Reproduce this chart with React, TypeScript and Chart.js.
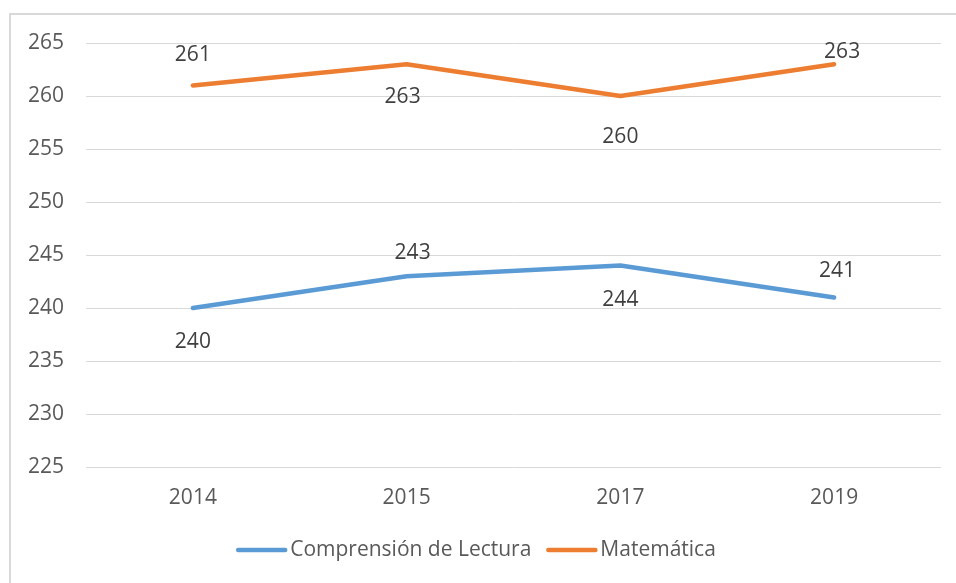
import React, { useEffect, useRef } from "react";
import { Chart, registerables } from "chart.js";

Chart.register(...registerables);

const categories = ["2014", "2015", "2017", "2019"];
const seriesNames = ["Comprensión de Lectura", "Matemática"];
const lecturaValues = [240, 243, 244, 241];
const matematicaValues = [261, 263, 260, 263];
const yMin = 225;
const yMax = 265;
const yStep = 5;

// label offsets in px (style only)
const lecturaLabelOffsets = [[0, 34], [6, -23], [0, 34], [3, -26]];
const matematicaLabelOffsets = [[0, -30], [-4, 33], [0, 41], [8, -12]];

const FONT = "'Open Sans', 'Noto Sans', sans-serif";
const FONT_SIZE = 21;
const TEXT = "#595959";
const BLUE = "#5B9BD5";
const ORANGE = "#ED7D31";

const labelPlugin = {
  id: "pointLabels",
  afterDatasetsDraw(chart: any) {
    const ctx = chart.ctx;
    ctx.save();
    ctx.font = `${FONT_SIZE}px ${FONT}`;
    ctx.fillStyle = "#404040";
    ctx.textAlign = "center";
    ctx.textBaseline = "middle";
    chart.data.datasets.forEach((ds: any, i: number) => {
      const meta = chart.getDatasetMeta(i);
      meta.data.forEach((pt: any, j: number) => {
        const off = ds.labelOffsets[j];
        ctx.fillText(String(ds.data[j]), pt.x + off[0], pt.y + off[1]);
      });
    });
    ctx.restore();
  },
};

const legendPlugin = {
  id: "customLegend",
  afterDraw(chart: any) {
    const ctx = chart.ctx;
    ctx.save();
    ctx.font = `${FONT_SIZE}px ${FONT}`;
    const lineLen = 51;
    const gap = 3;
    const itemGap = 15;
    const items = chart.data.datasets.map((ds: any) => ({
      label: ds.label,
      color: ds.borderColor,
      w: ctx.measureText(ds.label).width,
    }));
    let total = 0;
    items.forEach((it: any, i: number) => {
      total += lineLen + gap + it.w + (i < items.length - 1 ? itemGap : 0);
    });
    let x = 476 - total / 2;
    const y = 550;
    items.forEach((it: any) => {
      ctx.strokeStyle = it.color;
      ctx.lineWidth = 4.5;
      ctx.lineCap = "round";
      ctx.beginPath();
      ctx.moveTo(x + 2, y);
      ctx.lineTo(x + lineLen - 2, y);
      ctx.stroke();
      x += lineLen + gap;
      ctx.fillStyle = TEXT;
      ctx.textAlign = "left";
      ctx.textBaseline = "middle";
      ctx.fillText(it.label, x, y);
      x += it.w + itemGap;
    });
    ctx.restore();
  },
};

export default function App() {
  const ref = useRef<HTMLCanvasElement>(null);
  useEffect(() => {
    if (!ref.current) return;
    const chart = new Chart(ref.current, {
      type: "line",
      data: {
        labels: categories,
        datasets: [
          {
            label: seriesNames[0],
            data: lecturaValues,
            borderColor: BLUE,
            backgroundColor: BLUE,
            borderWidth: 4.5,
            pointRadius: 0,
            tension: 0,
            borderCapStyle: "round",
            borderJoinStyle: "round",
            labelOffsets: lecturaLabelOffsets,
          } as any,
          {
            label: seriesNames[1],
            data: matematicaValues,
            borderColor: ORANGE,
            backgroundColor: ORANGE,
            borderWidth: 4.5,
            pointRadius: 0,
            tension: 0,
            borderCapStyle: "round",
            borderJoinStyle: "round",
            labelOffsets: matematicaLabelOffsets,
          } as any,
        ],
      },
      options: {
        responsive: false,
        animation: false,
        layout: { padding: { top: 43, right: 15, left: 0, bottom: 0 } },
        plugins: {
          legend: { display: false },
          tooltip: { enabled: false },
        },
        scales: {
          x: {
            offset: true,
            grid: { display: false, drawTicks: false },
            border: { display: false },
            ticks: {
              color: TEXT,
              padding: 18,
              font: { family: FONT, size: FONT_SIZE },
              maxRotation: 0,
            },
            afterFit: (s: any) => {
              s.height = 116;
            },
          },
          y: {
            min: yMin,
            max: yMax,
            grid: { color: "#d9d9d9", lineWidth: 1, drawTicks: false },
            border: { display: false },
            ticks: {
              stepSize: yStep,
              color: TEXT,
              padding: 22,
              font: { family: FONT, size: FONT_SIZE },
            },
            afterFit: (s: any) => {
              s.width = 86;
            },
          },
        },
      },
      plugins: [labelPlugin, legendPlugin],
    });
    return () => chart.destroy();
  }, []);

  return (
    <div
      style={{
        position: "fixed",
        left: 0,
        top: 0,
        width: 956,
        height: 583,
        background: "#fff",
        overflow: "hidden",
      }}
    >
      <div
        style={{
          position: "absolute",
          left: 9,
          top: 13,
          width: 1000,
          height: 1000,
          borderTop: "2px solid #d9d9d9",
          borderLeft: "2px solid #d9d9d9",
        }}
      />
      <canvas
        ref={ref}
        width={956}
        height={583}
        style={{ position: "absolute", left: 0, top: 0 }}
      />
    </div>
  );
}
